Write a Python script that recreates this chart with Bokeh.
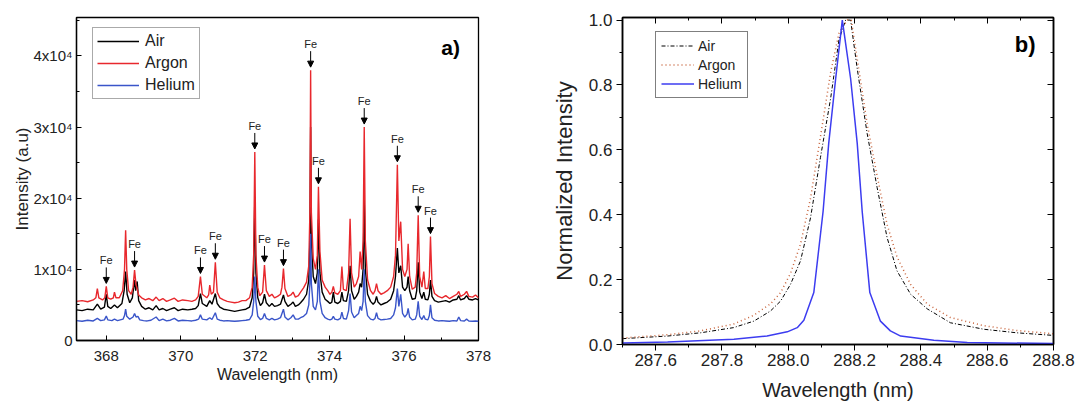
from bokeh.plotting import figure
from bokeh.layouts import row
from bokeh.models import (Range1d, SingleIntervalTicker, CustomJSTickFormatter,
                          PrintfTickFormatter, LinearAxis, Label, Arrow, NormalHead,
                          ColumnDataSource)
from bokeh.embed import file_html
from bokeh.resources import INLINE
from bokeh.core.properties import value

FONT = "Liberation Sans"

# ---------------- panel a) data ----------------
argon_wl = [367.20, 367.35, 367.50, 367.65, 367.72, 367.76, 367.80, 367.90, 367.96, 368.00, 368.04, 368.12,
            368.19, 368.22, 368.26, 368.35, 368.44, 368.49, 368.52, 368.55, 368.60, 368.67, 368.72, 368.76,
            368.80, 368.83, 368.87, 368.95, 369.05, 369.15, 369.25, 369.34, 369.42, 369.52, 369.62, 369.72,
            369.83, 369.93, 370.05, 370.19, 370.30, 370.40, 370.47, 370.53, 370.58, 370.70, 370.75, 370.78,
            370.82, 370.88, 370.93, 370.98, 371.05, 371.15, 371.25, 371.35, 371.45, 371.55, 371.65, 371.75,
            371.85, 371.92, 371.96, 371.99, 372.02, 372.07, 372.12, 372.20, 372.25, 372.30, 372.38, 372.45,
            372.52, 372.60, 372.68, 372.72, 372.76, 372.80, 372.88, 372.96, 373.02, 373.08, 373.16, 373.22,
            373.30, 373.38, 373.44, 373.47, 373.49, 373.51, 373.56, 373.62, 373.67, 373.70, 373.74, 373.80,
            373.88, 373.95, 374.01, 374.06, 374.10, 374.14, 374.22, 374.29, 374.33, 374.37, 374.45, 374.51,
            374.55, 374.59, 374.66, 374.72, 374.78, 374.82, 374.86, 374.90, 374.93, 374.96, 375.02, 375.10,
            375.17, 375.22, 375.26, 375.30, 375.38, 375.46, 375.55, 375.64, 375.72, 375.77, 375.82, 375.86,
            375.91, 375.96, 376.02, 376.08, 376.11, 376.15, 376.22, 376.30, 376.34, 376.38, 376.42, 376.48,
            376.53, 376.57, 376.64, 376.68, 376.71, 376.75, 376.82, 376.92, 377.02, 377.12, 377.22, 377.32,
            377.42, 377.47, 377.52, 377.62, 377.68, 377.74, 377.84, 377.92, 378.00]
argon_int = [5500, 5600, 5450, 5700, 6000, 7300, 6000, 5700, 6000, 7600, 6000, 5800,
             6000, 6800, 6000, 6000, 7000, 10000, 15500, 10000, 7000, 6500, 7500, 9900,
             7800, 7300, 6400, 6000, 5700, 5900, 5600, 6100, 5600, 5900, 5500, 5700,
             5950, 5500, 5700, 5600, 5500, 5700, 6200, 9000, 6500, 6000, 6400, 7800,
             6500, 6800, 11000, 6800, 6000, 5700, 5500, 5400, 5300, 5400, 5600, 5600,
             6000, 7500, 12000, 26500, 12000, 7500, 6300, 6800, 10600, 7000, 6200, 6500,
             6000, 6200, 6500, 7500, 10100, 7300, 6200, 6400, 6800, 6100, 6300, 6800,
             7400, 8200, 10500, 18000, 38000, 18000, 11500, 10000, 12000, 21600, 12500, 8500,
             7500, 7000, 6500, 6800, 7600, 6700, 6500, 7000, 10400, 7200, 7000, 9500,
             17100, 9500, 7500, 8000, 9000, 12500, 10000, 14000, 30000, 14000, 8500, 7000,
             6500, 7000, 8000, 7000, 6500, 6700, 7000, 7500, 9000, 12000, 24700, 14000,
             16700, 10000, 9000, 10000, 13600, 9000, 7200, 7500, 9500, 17600, 9000, 7500,
             9700, 7300, 7300, 9000, 14600, 8000, 6600, 6200, 6000, 6300, 5900, 6200,
             6500, 6900, 6200, 6500, 6900, 6200, 6100, 6400, 6000]

air_wl = [367.20, 367.35, 367.50, 367.65, 367.76, 367.85, 367.95, 368.00, 368.04, 368.12, 368.22, 368.30,
          368.42, 368.48, 368.52, 368.56, 368.63, 368.70, 368.76, 368.79, 368.83, 368.87, 368.95, 369.05,
          369.15, 369.25, 369.34, 369.42, 369.52, 369.62, 369.72, 369.83, 369.93, 370.05, 370.19, 370.30,
          370.40, 370.47, 370.53, 370.58, 370.70, 370.78, 370.84, 370.93, 370.98, 371.05, 371.15, 371.25,
          371.35, 371.45, 371.55, 371.65, 371.75, 371.85, 371.92, 371.96, 371.99, 372.02, 372.07, 372.14,
          372.20, 372.25, 372.30, 372.38, 372.45, 372.52, 372.60, 372.68, 372.76, 372.80, 372.88, 372.96,
          373.02, 373.08, 373.16, 373.22, 373.30, 373.38, 373.44, 373.47, 373.49, 373.51, 373.56, 373.62,
          373.67, 373.70, 373.74, 373.80, 373.88, 373.95, 374.01, 374.06, 374.10, 374.14, 374.22, 374.29,
          374.33, 374.37, 374.45, 374.51, 374.55, 374.59, 374.66, 374.72, 374.78, 374.82, 374.86, 374.90,
          374.93, 374.96, 375.02, 375.10, 375.17, 375.22, 375.26, 375.30, 375.38, 375.46, 375.55, 375.64,
          375.72, 375.77, 375.82, 375.86, 375.91, 375.96, 376.02, 376.08, 376.11, 376.15, 376.22, 376.30,
          376.34, 376.38, 376.42, 376.48, 376.53, 376.57, 376.64, 376.68, 376.71, 376.75, 376.82, 376.92,
          377.02, 377.12, 377.22, 377.32, 377.42, 377.47, 377.52, 377.62, 377.68, 377.74, 377.84, 377.92,
          378.00]
air_int = [4300, 4200, 4400, 4300, 5100, 4400, 4700, 6500, 4800, 4500, 5000, 4600,
           5200, 7000, 9700, 6500, 5300, 6000, 8500, 7000, 8300, 5600, 4800, 4400,
           4600, 4300, 4900, 4300, 4500, 4200, 4400, 4600, 4200, 4400, 4300, 4400,
           4500, 4900, 6600, 5200, 4800, 5600, 5100, 6600, 5200, 4700, 4400, 4300,
           4200, 4100, 4200, 4300, 4400, 4700, 6000, 9500, 20000, 9500, 6000, 4900,
           5300, 6500, 5300, 4800, 5200, 4800, 4900, 5100, 6400, 5500, 4800, 5100,
           5400, 4800, 5000, 5300, 5800, 6500, 8500, 14000, 30000, 14000, 9000, 8000,
           9500, 17000, 9500, 6800, 5800, 5500, 5200, 5400, 6800, 5400, 5200, 5500,
           6800, 5600, 5500, 7000, 10500, 7000, 5800, 6200, 6800, 8000, 7500, 10000,
           20000, 10000, 6500, 5500, 5100, 5400, 6200, 5400, 5000, 5200, 5400, 5800,
           7000, 9000, 13000, 9500, 10500, 7500, 7000, 7500, 9000, 7000, 5800, 5900,
           7000, 11000, 6800, 5900, 6800, 5800, 5700, 6500, 8500, 6200, 5600, 5400,
           5500, 5600, 5400, 5700, 5800, 6300, 5700, 5900, 6300, 5800, 5700, 5900,
           5700]

helium_wl = [367.20, 367.35, 367.50, 367.65, 367.76, 367.85, 367.95, 368.00, 368.04, 368.15, 368.22, 368.30,
             368.45, 368.49, 368.52, 368.55, 368.63, 368.72, 368.76, 368.80, 368.85, 368.90, 369.00, 369.10,
             369.20, 369.34, 369.42, 369.52, 369.62, 369.72, 369.83, 369.93, 370.05, 370.19, 370.30, 370.40,
             370.48, 370.53, 370.58, 370.70, 370.78, 370.84, 370.93, 370.98, 371.05, 371.15, 371.25, 371.35,
             371.45, 371.55, 371.65, 371.75, 371.85, 371.92, 371.96, 371.99, 372.02, 372.07, 372.14, 372.20,
             372.25, 372.30, 372.38, 372.45, 372.52, 372.60, 372.68, 372.76, 372.80, 372.88, 372.96, 373.02,
             373.08, 373.16, 373.22, 373.30, 373.38, 373.44, 373.47, 373.49, 373.51, 373.56, 373.62, 373.67,
             373.70, 373.74, 373.80, 373.88, 373.95, 374.01, 374.06, 374.10, 374.14, 374.22, 374.29, 374.33,
             374.37, 374.45, 374.51, 374.55, 374.59, 374.66, 374.72, 374.78, 374.82, 374.86, 374.90, 374.93,
             374.96, 375.02, 375.10, 375.17, 375.22, 375.26, 375.30, 375.38, 375.46, 375.55, 375.64, 375.72,
             375.77, 375.82, 375.86, 375.91, 375.96, 376.02, 376.08, 376.11, 376.15, 376.22, 376.30, 376.34,
             376.38, 376.42, 376.48, 376.53, 376.57, 376.64, 376.68, 376.71, 376.75, 376.82, 376.92, 377.02,
             377.12, 377.22, 377.32, 377.42, 377.47, 377.52, 377.62, 377.68, 377.74, 377.84, 377.92, 378.00]
helium_int = [2800, 2700, 2850, 2750, 3100, 2800, 2900, 3450, 2900, 2800, 3000, 2800,
              3000, 3500, 4400, 3400, 3000, 3300, 3800, 3300, 3400, 2900, 2800, 2750,
              2850, 3300, 2800, 3000, 2750, 2850, 3100, 2750, 2850, 2800, 2750, 2850,
              3000, 3600, 3000, 2900, 3200, 2950, 3900, 3000, 2850, 2750, 2800, 2750,
              2700, 2750, 2800, 2850, 2950, 3600, 5500, 9000, 5500, 3400, 2950, 3100,
              3800, 3100, 2900, 3100, 2900, 3000, 3200, 4400, 3300, 2900, 3200, 3600,
              3000, 3000, 3200, 3400, 3800, 5000, 8000, 15000, 8000, 4800, 4300, 5500,
              10000, 5500, 3800, 3200, 3000, 2900, 3000, 3400, 3000, 2900, 3100, 4000,
              3100, 3000, 4200, 6600, 4000, 3200, 3500, 3800, 4800, 4200, 5500, 10000,
              5500, 3500, 3000, 2900, 3100, 3900, 3100, 2900, 2950, 3000, 3100, 3600,
              4600, 7300, 4800, 6500, 3800, 3300, 3700, 4500, 3300, 2900, 3000, 3600,
              5500, 3400, 2950, 3500, 3000, 2900, 3500, 5000, 3200, 2850, 2750, 2800,
              2750, 2700, 2800, 2750, 3300, 2800, 2750, 3000, 2750, 2700, 2750, 2700]

fe_wl = [368.00, 368.76, 370.53, 370.93, 371.99, 372.25, 372.76, 373.49, 373.70, 374.93, 375.82, 376.38, 376.71]
fe_int = [7600, 9900, 9000, 11000, 26500, 10600, 10100, 38000, 21600, 30000, 24700, 17600, 14600]

# ---------------- panel b) data ----------------
airb_wl = [287.50, 287.635, 287.735, 287.835, 287.896, 287.946, 287.977, 288.007, 288.037, 288.067, 288.097,
           288.128, 288.153, 288.173, 288.188, 288.208, 288.238, 288.268, 288.298, 288.328, 288.369, 288.419,
           288.489, 288.59, 288.69, 288.80]
airb_val = [0.018, 0.026, 0.036, 0.052, 0.072, 0.103, 0.134, 0.186, 0.258, 0.39, 0.576,
            0.76, 0.94, 1.0, 1.0, 0.85, 0.65, 0.484, 0.33, 0.227, 0.155, 0.11,
            0.067, 0.047, 0.036, 0.028]
argb_wl = [287.50, 287.635, 287.735, 287.835, 287.896, 287.946, 287.977, 288.007, 288.037, 288.067, 288.097,
           288.128, 288.153, 288.178, 288.190, 288.208, 288.238, 288.268, 288.298, 288.328, 288.369, 288.419,
           288.489, 288.59, 288.69, 288.80]
argb_val = [0.020, 0.030, 0.042, 0.063, 0.09, 0.125, 0.16, 0.22, 0.31, 0.45, 0.64,
            0.84, 0.96, 1.0, 1.0, 0.88, 0.68, 0.52, 0.37, 0.27, 0.185, 0.125,
            0.083, 0.058, 0.043, 0.033]
heb_wl = [287.50, 287.636, 287.836, 287.936, 287.997, 288.027, 288.047, 288.077, 288.105, 288.122, 288.143,
          288.163, 288.188, 288.208, 288.223, 288.246, 288.278, 288.308, 288.339, 288.439, 288.54, 288.80]
heb_val = [0.005, 0.008, 0.016, 0.026, 0.039, 0.052, 0.075, 0.16, 0.41, 0.62, 0.82,
           1.0, 0.82, 0.62, 0.41, 0.16, 0.072, 0.042, 0.026, 0.013, 0.006, 0.003]

RED = "#e8282d"
BLUE = "#3a55c9"

# ================= panel a =================
p1 = figure(frame_width=402, frame_height=323, min_border_left=76, min_border_right=62,
            min_border_top=16, min_border_bottom=50,
            x_range=Range1d(367.2, 378.0), y_range=Range1d(0, 45400),
            output_backend="svg", toolbar_location=None)
p1.grid.visible = False
p1.outline_line_color = "black"
p1.outline_line_width = 1.3

p1.line(air_wl, air_int, line_color="black", line_width=1.4, legend_label="Air")
p1.line(argon_wl, argon_int, line_color=RED, line_width=1.4, legend_label="Argon")
p1.line(helium_wl, helium_int, line_color=BLUE, line_width=1.4, legend_label="Helium")

PXY = 45400 / 323.0
fe_src = ColumnDataSource(dict(
    x=fe_wl,
    y0=[v + 19 * PXY for v in fe_int],
    y1=[v + 3 * PXY for v in fe_int],
    ty=[v + 26 * PXY for v in fe_int],
    t=["Fe"] * len(fe_wl)))
p1.add_layout(Arrow(end=NormalHead(size=6, fill_color="black", line_color="black", line_width=1),
                    x_start="x", y_start="y0", x_end="x", y_end="y1",
                    line_color="black", line_width=1, source=fe_src))
p1.text(x="x", y="ty", text="t", source=fe_src, text_font=value(FONT),
        text_font_size=value("11px"), text_align="center", text_baseline="middle",
        text_color="#222222")

xa = p1.xaxis[0]
xa.ticker = SingleIntervalTicker(interval=2, num_minor_ticks=2)
xa.major_tick_in, xa.major_tick_out = 5, 0
xa.minor_tick_in, xa.minor_tick_out = 3, 0
xa.axis_line_width = 1.3
xa.major_label_text_font = FONT
xa.major_label_text_font_size = "15px"
xa.major_label_text_color = "#222222"
xa.major_label_standoff = 10
xa.axis_label = "Wavelength (nm)"
xa.axis_label_text_font = FONT
xa.axis_label_text_font_size = "16px"
xa.axis_label_text_font_style = "normal"
xa.axis_label_text_color = "#222222"
xa.axis_label_standoff = 2

ya = p1.yaxis[0]
ya.ticker = SingleIntervalTicker(interval=10000, num_minor_ticks=2)
ya.formatter = CustomJSTickFormatter(code="""
if (tick == 0) { return "0"; }
return (tick / 10000).toFixed(0) + "x10\u2074";
""")
ya.major_tick_in, ya.major_tick_out = 5, 0
ya.minor_tick_in, ya.minor_tick_out = 3, 0
ya.axis_line_width = 1.3
ya.major_label_text_font = FONT
ya.major_label_text_font_size = "15px"
ya.major_label_text_color = "#222222"
ya.major_label_standoff = 4
ya.axis_label = "Intensity (a.u)"
ya.axis_label_text_font = FONT
ya.axis_label_text_font_size = "17px"
ya.axis_label_text_font_style = "normal"
ya.axis_label_text_color = "#222222"
ya.axis_label_standoff = -1

lg = p1.legend[0]
lg.location = (16, 241)
lg.label_text_font = FONT
lg.label_text_font_size = "16px"
lg.label_text_color = "#222222"
lg.glyph_width = 42
lg.glyph_height = 18
lg.label_height = 18
lg.label_standoff = 6
lg.spacing = 4
lg.padding = 4
lg.border_line_color = "#555555"
lg.border_line_width = 1.3
lg.background_fill_alpha = 1.0

p1.add_layout(Label(x=377.5, y=41200, text="a)", text_font=FONT, text_font_size="21px",
                    text_font_style="bold", text_align="right", text_baseline="middle",
                    text_color="black"))

# ================= panel b =================
p2 = figure(frame_width=431, frame_height=327, min_border_left=82, min_border_right=25,
            min_border_top=17, min_border_bottom=56,
            x_range=Range1d(287.5, 288.8), y_range=Range1d(0, 1.008),
            output_backend="svg", toolbar_location=None)
p2.grid.visible = False
p2.outline_line_color = "black"
p2.outline_line_width = 1.5

p2.line(airb_wl, airb_val, line_color="black", line_width=1, line_dash="4 2 1 2", legend_label="Air")
p2.line(argb_wl, argb_val, line_color="#c8643c", line_width=1.5, line_dash="1 3", legend_label="Argon")
p2.line(heb_wl, heb_val, line_color="#3c3cf0", line_width=1.5, legend_label="Helium")

bx = p2.xaxis[0]
bx.ticker = SingleIntervalTicker(interval=0.2, num_minor_ticks=2)
bx.formatter = PrintfTickFormatter(format="%.1f")
bx.major_tick_in, bx.major_tick_out = 0, 6
bx.minor_tick_in, bx.minor_tick_out = 0, 3
bx.axis_line_width = 1.5
bx.major_label_text_font = FONT
bx.major_label_text_font_size = "17px"
bx.major_label_text_color = "#222222"
bx.major_label_standoff = 3
bx.axis_label = "Wavelength (nm)"
bx.axis_label_text_font = FONT
bx.axis_label_text_font_size = "20px"
bx.axis_label_text_font_style = "normal"
bx.axis_label_text_color = "#222222"
bx.axis_label_standoff = 10

by = p2.yaxis[0]
by.ticker = SingleIntervalTicker(interval=0.2, num_minor_ticks=2)
by.formatter = PrintfTickFormatter(format="%.1f")
by.major_tick_in, by.major_tick_out = 0, 6
by.minor_tick_in, by.minor_tick_out = 0, 3
by.axis_line_width = 1.5
by.major_label_text_font = FONT
by.major_label_text_font_size = "17px"
by.major_label_text_color = "#222222"
by.major_label_standoff = 4
by.axis_label = "Normalized Intensity"
by.axis_label_text_font = FONT
by.axis_label_text_font_size = "22px"
by.axis_label_text_font_style = "normal"
by.axis_label_text_color = "#222222"
by.axis_label_standoff = 9

top_ax = LinearAxis(ticker=SingleIntervalTicker(interval=0.2, num_minor_ticks=2),
                    major_tick_in=6, major_tick_out=0, minor_tick_in=3, minor_tick_out=0,
                    major_label_text_font_size="1px", major_label_text_color=None,
                    major_label_standoff=0, axis_line_width=1.5)
right_ax = LinearAxis(ticker=SingleIntervalTicker(interval=0.2, num_minor_ticks=2),
                      major_tick_in=6, major_tick_out=0, minor_tick_in=3, minor_tick_out=0,
                      major_label_text_font_size="1px", major_label_text_color=None,
                      major_label_standoff=0, axis_line_width=1.5)
p2.add_layout(top_ax, "above")
p2.add_layout(right_ax, "right")

lg2 = p2.legend[0]
lg2.location = (33, 246)
lg2.label_text_font = FONT
lg2.label_text_font_size = "14px"
lg2.label_text_color = "#222222"
lg2.glyph_width = 33
lg2.glyph_height = 17
lg2.label_height = 17
lg2.label_standoff = 4
lg2.spacing = 2
lg2.padding = 5
lg2.border_line_color = "black"
lg2.border_line_width = 1.2
lg2.background_fill_alpha = 1.0

p2.add_layout(Label(x=288.746, y=0.925, text="b)", text_font=FONT, text_font_size="22px",
                    text_font_style="bold", text_align="right", text_baseline="middle",
                    text_color="black"))

layout = row(p1, p2)
open("out.html", "w").write(file_html(layout, INLINE))
